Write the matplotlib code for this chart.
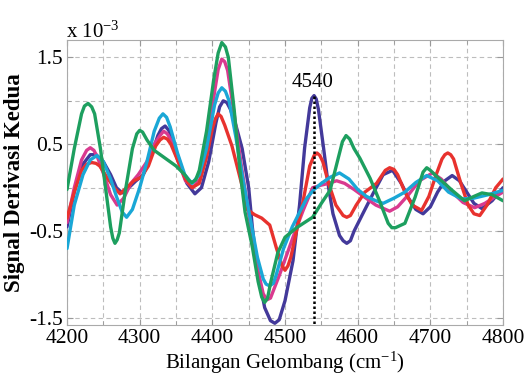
"""
Second-derivative NIR spectra, 4200-4800 cm-1, five samples.
"""

import matplotlib
matplotlib.use('Agg')
import matplotlib.pyplot as plt
from matplotlib.ticker import MultipleLocator, FixedLocator

plt.rcParams['font.family'] = ['Liberation Serif', 'DejaVu Serif']
plt.rcParams['mathtext.fontset'] = 'custom'
plt.rcParams['mathtext.rm'] = 'Liberation Serif'
plt.rcParams['mathtext.it'] = 'Liberation Serif:italic'

# values in units of 1e-3
navy_x = [4200, 4210, 4220, 4232, 4240, 4250, 4260, 4268, 4276, 4285, 4295, 4305,
          4315, 4325, 4330, 4335, 4340, 4345, 4355, 4365, 4376, 4385, 4395, 4405,
          4410, 4415, 4420, 4425, 4433, 4441, 4450, 4455, 4462, 4472, 4480, 4486,
          4492, 4500, 4511, 4520, 4527, 4534, 4537, 4540, 4543, 4546, 4553, 4560,
          4566, 4575, 4580, 4585, 4590, 4595, 4607, 4621, 4635, 4648, 4660, 4670,
          4680, 4690, 4700, 4710, 4720, 4730, 4740, 4750, 4760, 4771, 4785, 4800]
navy_y = [-0.45, -0.05, 0.25, 0.38, 0.38, 0.30, 0.15, 0.00, -0.06, 0.00, 0.08, 0.15,
          0.35, 0.60, 0.68, 0.71, 0.66, 0.55, 0.30, 0.05, -0.07, 0.00, 0.30, 0.75,
          0.93, 1.00, 0.98, 0.90, 0.70, 0.45, 0.00, -0.45, -0.95, -1.38, -1.53, -1.56,
          -1.52, -1.30, -0.84, -0.20, 0.46, 0.92, 1.03, 1.06, 1.02, 0.90, 0.46, 0.00,
          -0.30, -0.55, -0.61, -0.64, -0.61, -0.50, -0.30, -0.07, 0.15, 0.20, 0.05, -0.12,
          -0.25, -0.30, -0.22, -0.05, 0.08, 0.14, 0.08, -0.05, -0.18, -0.24, -0.15, 0.00]

red_x = [4200, 4210, 4220, 4227, 4234, 4240, 4245, 4255, 4265, 4273, 4282, 4292,
         4302, 4312, 4322, 4328, 4333, 4338, 4343, 4353, 4363, 4372, 4382, 4392,
         4400, 4404, 4408, 4412, 4417, 4427, 4441, 4448, 4458, 4468, 4479, 4488,
         4496, 4500, 4504, 4508, 4515, 4525, 4534, 4540, 4544, 4548, 4552, 4560,
         4570, 4580, 4585, 4590, 4598, 4610, 4626, 4638, 4644, 4650, 4655, 4665,
         4675, 4688, 4698, 4708, 4716, 4720, 4724, 4728, 4732, 4742, 4752, 4760,
         4768, 4778, 4790, 4800]
red_y = [-0.35, -0.05, 0.20, 0.27, 0.29, 0.28, 0.25, 0.12, 0.00, -0.07, 0.00, 0.08,
         0.12, 0.25, 0.48, 0.55, 0.58, 0.56, 0.50, 0.30, 0.10, 0.00, 0.05, 0.35,
         0.68, 0.79, 0.85, 0.82, 0.72, 0.48, 0.02, -0.25, -0.31, -0.35, -0.43, -0.69,
         -0.90, -0.95, -0.90, -0.80, -0.53, -0.15, 0.25, 0.37, 0.40, 0.37, 0.30, 0.05,
         -0.20, -0.32, -0.34, -0.32, -0.20, -0.05, 0.05, 0.20, 0.23, 0.21, 0.15, -0.05,
         -0.20, -0.26, -0.10, 0.15, 0.33, 0.38, 0.40, 0.38, 0.33, 0.05, -0.20, -0.30,
         -0.32, -0.20, 0.00, 0.10]

magenta_x = [4200, 4210, 4220, 4227, 4232, 4237, 4242, 4252, 4260, 4269, 4278, 4288,
             4298, 4310, 4320, 4328, 4333, 4338, 4343, 4353, 4363, 4373, 4383, 4393,
             4403, 4408, 4413, 4417, 4421, 4430, 4440, 4450, 4460, 4470, 4475, 4480,
             4493, 4511, 4525, 4538, 4550, 4560, 4571, 4582, 4595, 4608, 4625, 4644,
             4655, 4670, 4685, 4703, 4715, 4730, 4745, 4761, 4775, 4790, 4800]
magenta_y = [-0.40, 0.00, 0.32, 0.43, 0.46, 0.43, 0.35, 0.12, -0.08, -0.20, -0.12, 0.05,
             0.15, 0.30, 0.50, 0.60, 0.65, 0.62, 0.55, 0.30, 0.08, 0.00, 0.10, 0.50,
             1.10, 1.36, 1.48, 1.45, 1.35, 0.85, 0.25, -0.30, -0.85, -1.22, -1.29, -1.27,
             -0.99, -0.57, -0.26, 0.00, 0.03, 0.05, 0.08, 0.05, -0.02, -0.10, -0.20, -0.27,
             -0.22, -0.08, 0.08, 0.17, 0.10, -0.05, -0.17, -0.23, -0.18, -0.10, -0.05]

cyan_x = [4200, 4210, 4222, 4232, 4241, 4250, 4260, 4268, 4276, 4282, 4290, 4300,
          4310, 4320, 4327, 4332, 4337, 4342, 4352, 4362, 4372, 4382, 4392, 4403,
          4408, 4413, 4418, 4423, 4432, 4442, 4452, 4462, 4470, 4474, 4479, 4484,
          4488, 4498, 4510, 4522, 4530, 4540, 4550, 4562, 4575, 4588, 4600, 4612,
          4625, 4635, 4650, 4665, 4680, 4695, 4710, 4725, 4743, 4760, 4780, 4800]
cyan_y = [-0.70, -0.20, 0.15, 0.32, 0.37, 0.30, 0.10, -0.10, -0.28, -0.34, -0.25, 0.00,
          0.30, 0.65, 0.80, 0.85, 0.81, 0.70, 0.40, 0.15, 0.05, 0.15, 0.45, 0.95,
          1.09, 1.15, 1.11, 1.00, 0.60, 0.10, -0.35, -0.80, -1.05, -1.11, -1.13, -1.10,
          -1.00, -0.70, -0.45, -0.25, -0.12, -0.02, 0.05, 0.12, 0.17, 0.10, -0.02, -0.10,
          -0.15, -0.18, -0.12, -0.05, 0.06, 0.14, 0.08, -0.05, -0.13, -0.12, -0.08, -0.03]

green_x = [4200, 4210, 4220, 4224, 4229, 4234, 4238, 4246, 4253, 4260, 4263, 4266,
           4269, 4272, 4280, 4290, 4296, 4300, 4304, 4310, 4320, 4335, 4350, 4362,
           4368, 4372, 4377, 4382, 4392, 4402, 4408, 4413, 4418, 4422, 4430, 4438,
           4445, 4455, 4463, 4468, 4472, 4476, 4480, 4490, 4500, 4516, 4538, 4550,
           4562, 4572, 4579, 4584, 4589, 4595, 4603, 4617, 4630, 4642, 4647, 4652,
           4665, 4679, 4690, 4695, 4700, 4710, 4730, 4747, 4760, 4771, 4785, 4800]
green_y = [-0.02, 0.45, 0.85, 0.94, 0.97, 0.93, 0.85, 0.45, 0.00, -0.45, -0.58, -0.64,
           -0.60, -0.52, -0.05, 0.45, 0.62, 0.66, 0.64, 0.55, 0.43, 0.34, 0.25, 0.15,
           0.08, 0.06, 0.09, 0.20, 0.65, 1.25, 1.55, 1.67, 1.62, 1.50, 0.90, 0.20,
           -0.28, -0.68, -1.08, -1.26, -1.32, -1.27, -1.10, -0.75, -0.57, -0.46, -0.34, -0.18,
           -0.03, 0.30, 0.53, 0.60, 0.56, 0.45, 0.34, 0.11, -0.15, -0.41, -0.46, -0.46,
           -0.41, -0.11, 0.18, 0.23, 0.20, 0.12, -0.03, -0.15, -0.10, -0.06, -0.08, -0.15]

series = [
    (navy_x, navy_y, '#43399a'),
    (magenta_x, magenta_y, '#d93a8f'),
    (red_x, red_y, '#e8322e'),
    (cyan_x, cyan_y, '#1aa7d6'),
    (green_x, green_y, '#1d9f5f'),
]

peak_pos = 4540
peak_val = 1.06

fig = plt.figure(figsize=(5.26, 3.83), dpi=100)
ax = fig.add_axes([0.1274, 0.1514, 0.8289, 0.7442])

for z, (xs, ys, color) in enumerate(series):
    ax.plot(xs, ys, color=color, lw=2.4, zorder=3 + z,
            solid_joinstyle='round', solid_capstyle='round')

ax.plot([peak_pos, peak_pos], [peak_val, -1.58], color='black', lw=1.8,
        linestyle=(0, (1, 1)), zorder=10)
ax.text(peak_pos - 2, 1.21, '4540', ha='center', va='center', fontsize=15)

ax.set_xlim(4200, 4800)
ax.set_ylim(-1.58, 1.70)
ax.xaxis.set_major_locator(MultipleLocator(100))
ax.xaxis.set_minor_locator(MultipleLocator(50))
ax.yaxis.set_major_locator(FixedLocator([-1.5, -0.5, 0.5, 1.5]))
ax.yaxis.set_minor_locator(FixedLocator([-1.0, 0.0, 1.0]))
ax.set_yticklabels(['-1.5', '-0.5', '0.5', '1.5'])

ax.grid(True, which='both', color='#bdbdbd', linestyle=(0, (4, 3)), lw=0.8)
ax.tick_params(which='both', direction='in', top=True, right=True,
               color='#999999', labelsize=15.5, pad=3)
ax.tick_params(which='major', length=4)
ax.tick_params(which='minor', length=3)
for spine in ax.spines.values():
    spine.set_color('#aaaaaa')

ax.set_xlabel('Bilangan Gelombang (cm$^{-1}$)', fontsize=15, labelpad=1)
ax.set_ylabel('Signal Derivasi Kedua', fontsize=16.5, fontweight='bold', labelpad=3)
fig.text(0.125, 0.902, 'x 10$^{-3}$', fontsize=15, ha='left', va='baseline')

fig.savefig('out.png', dpi=100)
plt.close(fig)
